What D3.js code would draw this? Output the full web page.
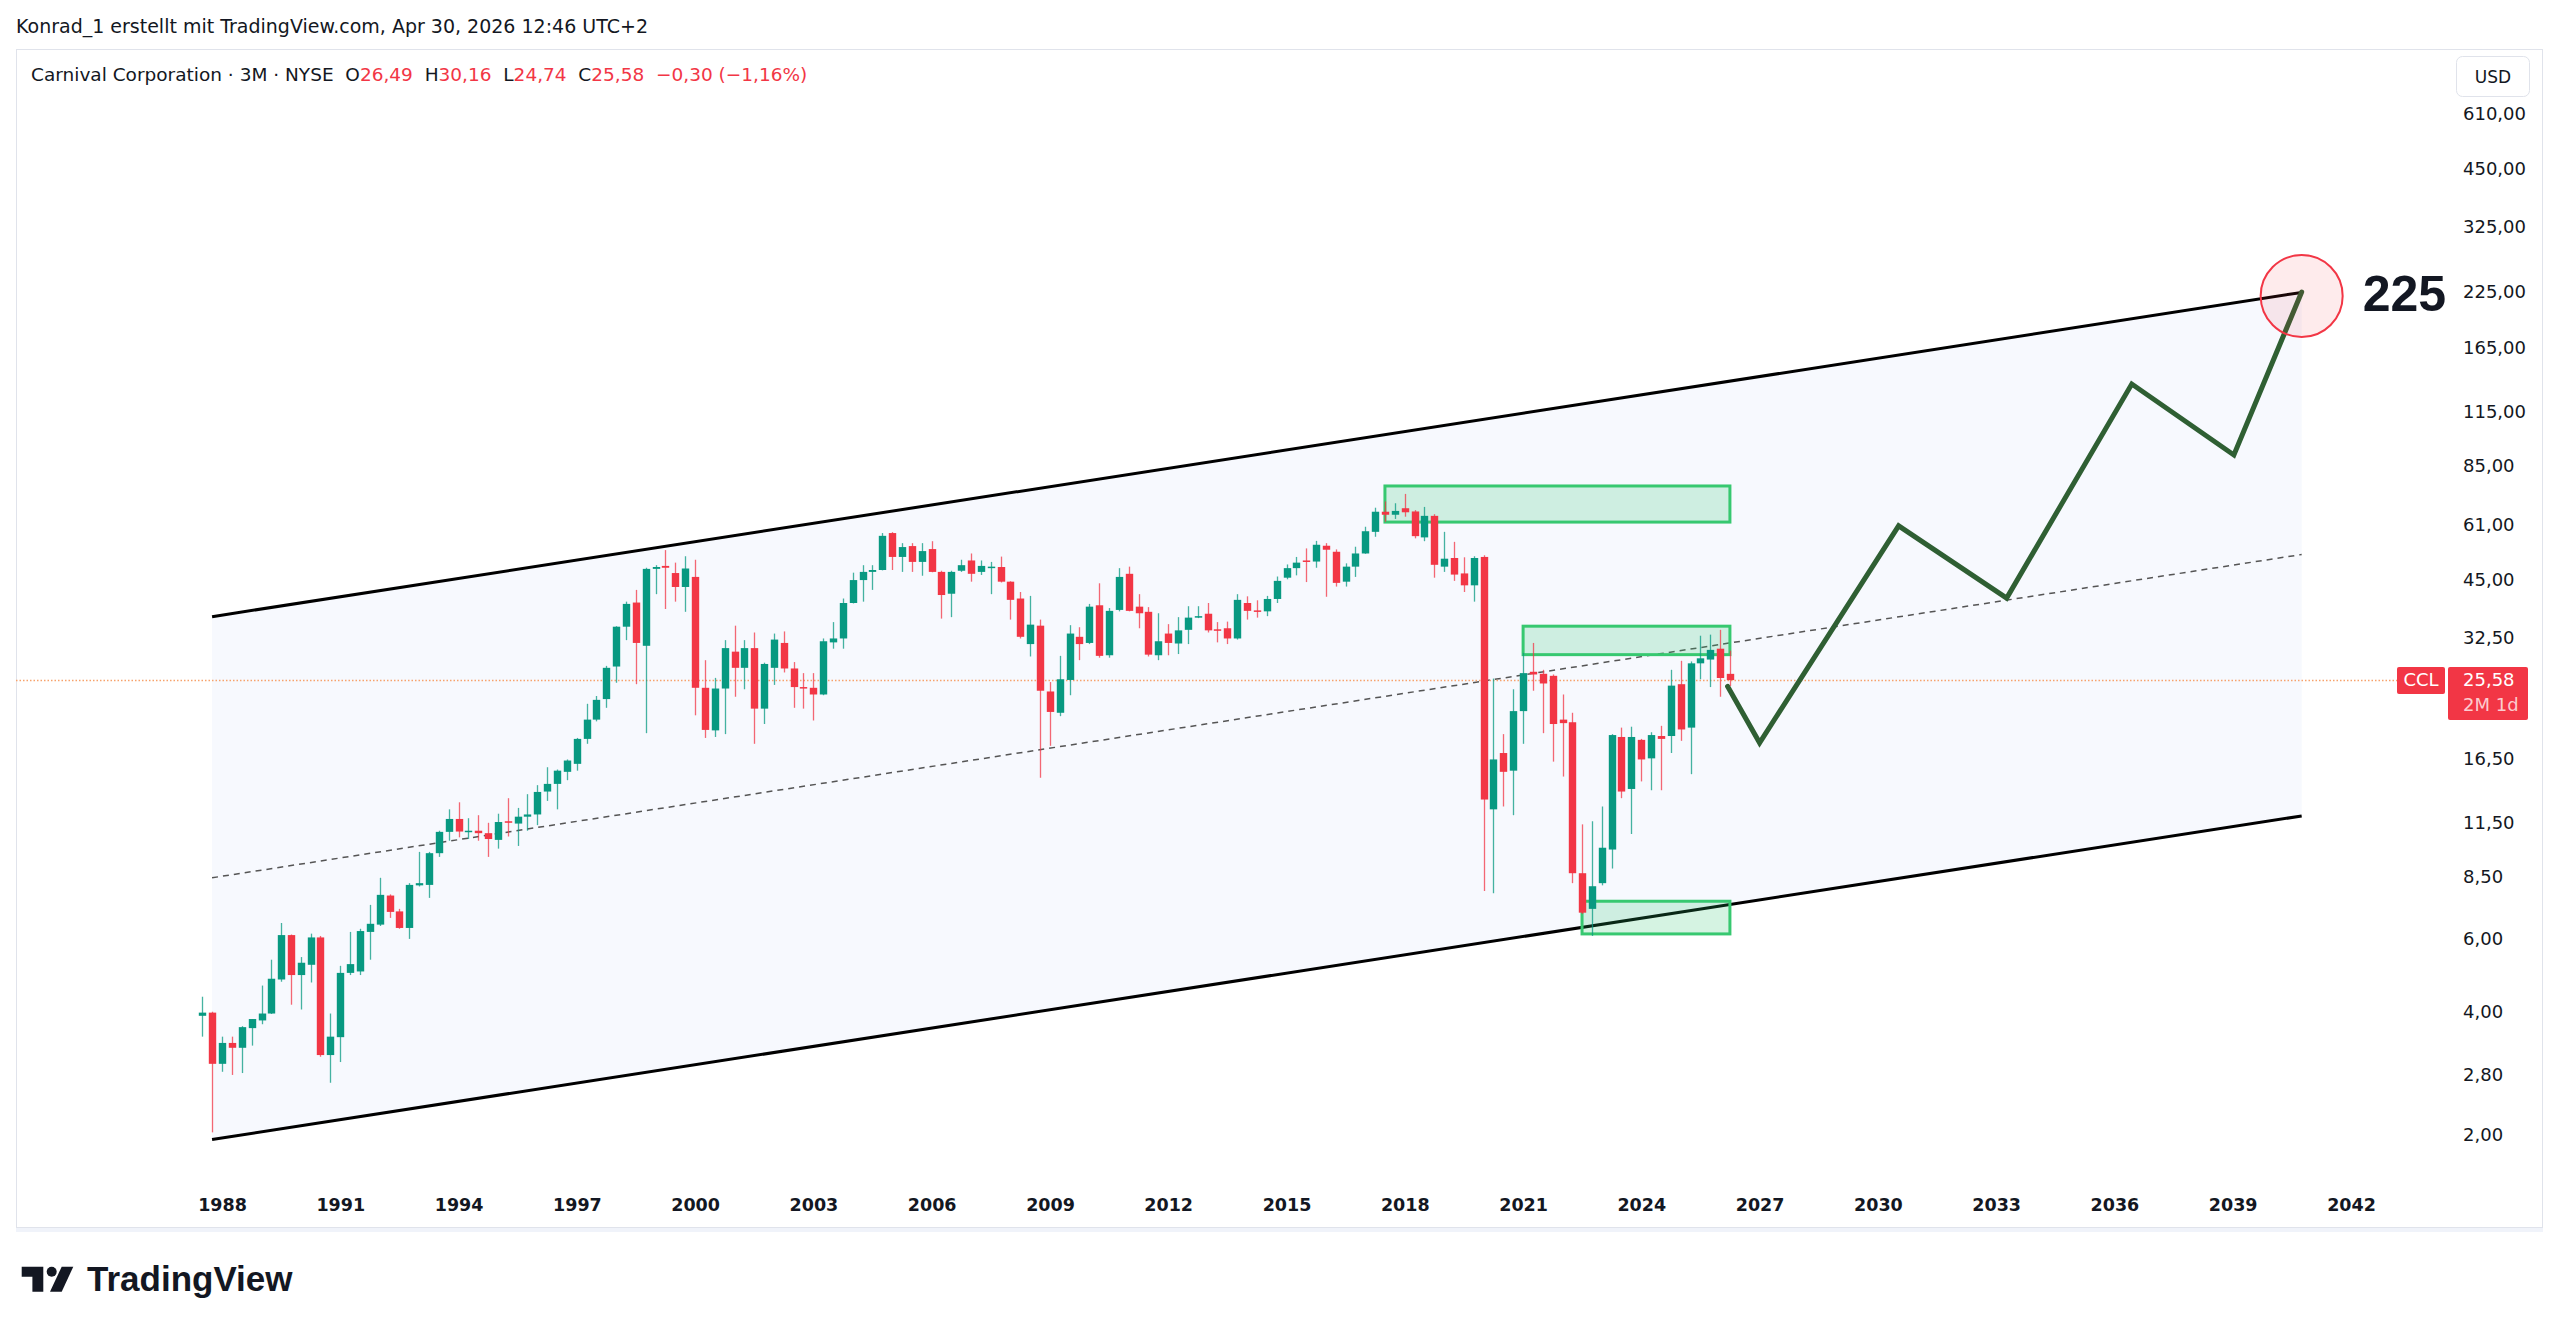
<!DOCTYPE html>
<html>
<head>
<meta charset="utf-8">
<script src="https://cdn.jsdelivr.net/npm/d3@7"></script>
<style>
  html, body { margin: 0; padding: 0; background: #fff; }
  svg { display: block; }
  text { font-family: "DejaVu Sans", sans-serif; fill: #131722; white-space: pre; }
</style>
</head>
<body>
<svg id="chart" width="2560" height="1334"></svg>
<script>

// quarterly candles, CCL, 1987 Q3 .. 2026 Q2
var firstQuarter = "1987-07-01", lastQuarter = "2026-04-01";
var opens = [3.90,3.97,2.98,3.35,3.26,3.64,3.80,3.95,4.78,6.13,
	4.90,5.19,6.05,3.13,3.46,4.96,5.00,6.24,6.50,7.65,
	7.00,6.38,8.10,8.12,9.70,10.93,11.75,10.95,11.0,10.85,
	10.45,11.6,11.45,11.9,12.05,13.7,14.3,15.3,16.0,18.4,
	20.5,23.0,27.6,34.5,39.5,31.0,47.7,48.5,46.6,43.1,
	45.6,24.5,19.3,24.4,30.0,27.4,30.6,21.8,27.4,31.5,
	27.3,24.6,24.5,23.6,31.6,32.3,39.4,44.8,46.9,47.4,
	58.3,51.0,54.2,49.6,53.3,46.9,41.5,47.2,50.0,46.9,
	48.0,48.2,44.4,40.4,31.3,34.7,24.0,21.3,25.6,32.6,
	31.5,38.9,29.4,37.9,46.4,38.6,37.5,29.4,33.2,31.4,
	33.9,36.4,37.1,34.0,34.2,32.3,39.4,37.8,37.6,40.3,
	45.4,47.9,50.0,49.7,54.3,52.5,44.4,48.3,52.0,58.7,
	65.7,64.6,67.0,65.8,56.9,64.2,48.3,50.7,46.5,43.5,
	51.0,12.4,17.0,15.4,21.5,26.8,26.5,26.2,20.5,20.2,
	8.67,7.1,8.2,9.9,18.6,13.9,18.3,16.5,18.7,18.7,
	25.0,19.6,28.1,28.7,30.5,26.49];
var highs = [4.34,3.99,3.47,3.47,3.68,3.83,4.62,5.34,6.56,6.15,
	5.42,6.18,6.10,3.95,5.16,6.24,6.35,7.26,8.45,7.70,
	7.10,8.20,9.77,9.77,11.0,12.4,12.9,11.8,12.0,11.5,
	12.1,13.2,12.5,13.5,14.2,15.7,15.5,16.4,18.5,22.4,
	23.4,27.7,34.6,39.7,42.4,48.0,48.7,53.0,49.4,51.2,
	50.2,28.6,25.9,32.0,34.7,32.0,33.4,28.2,33.2,33.6,
	28.3,26.6,26.6,32.3,35.4,40.4,46.7,48.7,48.7,58.3,
	58.6,55.1,55.1,55.1,55.7,47.2,47.2,50.2,52.0,50.0,
	49.6,51.1,44.5,41.9,41.0,35.9,25.3,29.3,34.8,34.4,
	39.2,44.0,38.3,47.9,48.3,41.4,38.5,37.2,35.0,36.4,
	38.7,38.7,39.4,35.4,35.5,41.4,40.9,40.0,41.0,45.7,
	48.9,51.0,53.5,55.8,55.1,53.2,49.2,54.0,60.4,67.2,
	69.6,68.9,72.6,66.3,67.5,64.8,58.7,55.5,50.9,51.2,
	51.5,25.8,18.9,24.3,29.8,31.5,27.1,26.4,23.6,21.3,
	11.4,11.6,12.6,18.9,19.6,19.7,18.4,19.1,19.8,27.1,
	28.5,28.4,32.8,33.0,33.9,30.16];
var lows = [3.47,2.03,2.85,2.80,2.83,3.30,3.72,3.94,4.72,4.15,
	4.04,4.70,3.10,2.68,3.01,4.90,4.90,5.34,6.45,6.75,
	6.35,6.00,8.05,7.55,9.50,10.4,10.6,10.5,10.4,9.5,
	9.95,10.65,10.1,11.0,11.35,13.0,12.4,14.6,15.4,17.9,
	20.3,21.9,25.2,32.0,25.0,19.0,41.4,38.1,39.7,37.5,
	21.0,18.5,18.6,18.9,23.3,24.3,17.9,20.0,24.9,26.7,
	21.9,21.8,20.4,23.5,30.5,30.5,39.3,39.7,42.4,47.3,
	47.4,46.9,46.9,45.9,46.8,36.1,36.4,46.9,44.4,46.1,
	41.4,44.2,35.9,32.3,29.2,14.8,17.7,20.9,23.5,28.6,
	31.3,29.0,29.0,37.6,37.6,34.2,29.2,28.6,29.4,29.6,
	31.3,36.2,33.4,31.6,31.3,32.1,35.9,36.3,36.6,39.4,
	45.0,46.0,44.3,48.0,40.8,43.2,43.2,45.6,51.9,57.1,
	62.1,63.1,63.9,56.6,55.7,45.4,46.9,44.6,41.9,39.7,
	7.85,7.75,12.6,12.0,17.9,24.1,19.0,16.2,14.9,8.2,
	6.9,6.1,8.1,8.9,13.2,10.8,14.5,13.8,13.8,17.0,
	18.2,15.1,25.7,24.6,23.3,24.74];
var closes = [3.97,2.98,3.35,3.26,3.66,3.83,3.95,4.80,6.13,4.90,
	5.25,6.05,3.13,3.47,4.96,5.21,6.27,6.53,7.68,6.98,
	6.38,8.12,8.20,9.70,10.93,11.75,10.95,11.00,10.85,10.5,
	11.55,11.5,11.9,12.05,13.67,14.3,15.4,16.3,18.4,20.5,
	22.9,27.4,34.5,39.2,31.5,47.7,48.2,48.0,43.1,47.8,
	24.5,19.35,24.4,30.6,27.4,30.6,21.8,28.0,32.1,27.3,
	24.6,24.5,23.6,31.8,32.3,39.4,44.8,46.9,47.4,57.4,
	51.0,53.9,49.6,52.7,46.9,41.2,46.9,48.7,46.4,48.5,
	48.3,44.4,40.1,32.6,34.9,24.1,21.4,25.7,33.2,31.3,
	38.6,29.3,37.7,45.6,37.7,37.2,29.5,31.8,31.5,33.8,
	36.3,36.6,33.8,33.8,32.3,40.1,37.7,37.6,40.3,44.6,
	47.9,49.4,49.7,54.6,53.1,44.1,48.3,52.0,58.9,65.7,
	64.6,66.0,65.5,57.3,64.2,48.8,50.5,46.2,43.5,50.7,
	13.1,16.4,15.3,21.5,26.6,26.4,25.1,20.0,20.1,8.67,
	6.95,8.06,10.0,18.8,13.7,18.6,16.4,18.8,18.4,24.8,
	19.4,28.1,28.9,30.3,25.88,25.58];

var priceTicks = [610, 450, 325, 225, 165, 115, 85, 61, 45, 32.5, 16.5, 11.5, 8.5, 6, 4, 2.8, 2];
var yearTicks = [1988, 1991, 1994, 1997, 2000, 2003, 2006, 2009, 2012, 2015, 2018,
	2021, 2024, 2027, 2030, 2033, 2036, 2039, 2042];

// drawings
var channelDates = ["1987-10-01", "2040-10-01"];
var channelUpper = [36.5, 224.5];
var channelMid = [8.45, 51.7];
var channelLower = [1.95, 11.95];

var zoneStart = ["2017-07-01", "2021-01-01", "2022-07-01"];
var zoneEnd = ["2026-04-01", "2026-04-01", "2026-04-01"];
var zoneTop = [75.9, 34.6, 7.41];
var zoneBottom = [62.0, 29.5, 6.17];

var pathDates = ["2026-03-10", "2027-01-01", "2030-07-12", "2033-04-08", "2036-06-10", "2039-01-12", "2040-10-01"];
var pathPrices = [24.7, 18.0, 60.7, 40.5, 134.4, 90.3, 225];
var targetLabel = "225";

var symbolName = "Carnival Corporation · 3M · NYSE";
var tickerName = "CCL";
var barCountdown = "2M 1d";
var headerText = "Konrad_1 erstellt mit TradingView.com, Apr 30, 2026 12:46 UTC+2";

var UP = "#089981", DOWN = "#f23645";

var de = d3.formatLocale({decimal: ",", thousands: ".", grouping: [3], currency: ["", " €"], minus: "\u2212"});
var fmtPrice = de.format(".2f");
var fmtChange = de.format(".2f");
var parse = d3.utcParse("%Y-%m-%d");

var svg = d3.select("#chart");

var x = d3.scaleUtc()
	.domain([new Date(Date.UTC(1988, 0, 1)), new Date(Date.UTC(2042, 0, 1))])
	.range([222, 2351]);
var y = d3.scaleLog().domain([2, 610]).range([1135, 114]);

var quarters = d3.utcMonth.every(3).range(parse(firstQuarter), d3.utcMonth.offset(parse(lastQuarter), 1));
var bars = quarters.map(function(d, i){
	return {date: d, o: opens[i], h: highs[i], l: lows[i], c: closes[i]};
});
var last = bars[bars.length - 1], prev = bars[bars.length - 2];

// header
svg.append("text").attr("x", 16).attr("y", 26).attr("dy", "0.35em")
	.style("font-size", "19px").text(headerText);

// panel
svg.append("rect").attr("x", 16).attr("y", 1228).attr("width", 2527).attr("height", 4).attr("fill", "#f0f3fa");
svg.append("rect").attr("x", 16.5).attr("y", 49.5).attr("width", 2526).attr("height", 1178)
	.attr("fill", "#fff").attr("stroke", "#e0e3eb");

// channel
var cd = channelDates.map(parse);
var chan = svg.append("g");
chan.append("path")
	.attr("d", "M" + x(cd[0]) + "," + y(channelUpper[0]) + "L" + x(cd[1]) + "," + y(channelUpper[1])
		+ "L" + x(cd[1]) + "," + y(channelLower[1]) + "L" + x(cd[0]) + "," + y(channelLower[0]) + "Z")
	.attr("fill", "#f7f9fe");
[channelUpper, channelLower].forEach(function(v){
	chan.append("line")
		.attr("x1", x(cd[0])).attr("y1", y(v[0])).attr("x2", x(cd[1])).attr("y2", y(v[1]))
		.attr("stroke", "#000").attr("stroke-width", 3);
});
chan.append("line")
	.attr("x1", x(cd[0])).attr("y1", y(channelMid[0])).attr("x2", x(cd[1])).attr("y2", y(channelMid[1]))
	.attr("stroke", "#555").attr("stroke-width", 1.5).attr("stroke-dasharray", "6,5");

// last price line
svg.append("line")
	.attr("x1", 16).attr("x2", 2397).attr("y1", Math.round(y(last.c)) + 0.5).attr("y2", Math.round(y(last.c)) + 0.5)
	.attr("stroke", "#f7a26b").attr("stroke-width", 1.5).attr("stroke-dasharray", "1.5,2");

// zones
svg.append("g").selectAll("rect")
	.data(zoneStart)
	.enter().append("rect")
	.attr("x", function(d){ return x(parse(d)); })
	.attr("width", function(d, i){ return x(parse(zoneEnd[i])) - x(parse(d)); })
	.attr("y", function(d, i){ return y(zoneTop[i]); })
	.attr("height", function(d, i){ return y(zoneBottom[i]) - y(zoneTop[i]); })
	.attr("fill", "rgba(46,196,110,0.2)")
	.attr("stroke", "#37c870").attr("stroke-width", 3);

// candles
var bw = 7.4;
var cg = svg.append("g");
cg.selectAll("line")
	.data(bars)
	.enter().append("line")
	.attr("x1", function(d){ return Math.round(x(d.date)) + 0.5; })
	.attr("x2", function(d){ return Math.round(x(d.date)) + 0.5; })
	.attr("y1", function(d){ return y(d.h); })
	.attr("y2", function(d){ return y(d.l); })
	.attr("stroke", function(d){ return d.c >= d.o ? UP : DOWN; })
	.attr("stroke-opacity", 0.75)
	.attr("stroke-width", 1.3);
cg.selectAll("rect")
	.data(bars)
	.enter().append("rect")
	.attr("x", function(d){ return Math.round(x(d.date)) + 0.5 - bw / 2; })
	.attr("width", bw)
	.attr("y", function(d){ return y(Math.max(d.o, d.c)); })
	.attr("height", function(d){ return Math.max(1.5, Math.abs(y(d.o) - y(d.c))); })
	.attr("fill", function(d){ return d.c >= d.o ? UP : DOWN; });

// projection
var proj = pathDates.map(function(d, i){ return [parse(d), pathPrices[i]]; });
svg.append("path")
	.datum(proj)
	.attr("d", d3.line().x(function(d){ return x(d[0]); }).y(function(d){ return y(d[1]); }))
	.attr("fill", "none").attr("stroke", "#2f5f33").attr("stroke-width", 5)
	.attr("stroke-linejoin", "miter").attr("stroke-linecap", "round");

// target marker
var tp = proj[proj.length - 1];
svg.append("circle")
	.attr("cx", x(tp[0])).attr("cy", y(tp[1]) + 4).attr("r", 41)
	.attr("fill", "rgba(242,54,69,0.1)").attr("stroke", DOWN).attr("stroke-width", 2);
svg.append("text")
	.attr("x", x(tp[0]) + 61).attr("y", y(tp[1]) + 19)
	.style("font-family", "'Liberation Sans', Arial, sans-serif")
	.style("font-weight", "bold").style("font-size", "50px")
	.text(targetLabel);

// axes
var yAxis = svg.append("g")
	.attr("transform", "translate(2455,0)")
	.call(d3.axisRight(y).tickValues(priceTicks).tickFormat(fmtPrice).tickSize(0).tickPadding(8));
yAxis.select(".domain").remove();
yAxis.selectAll("text").style("font-size", "18px").style("font-family", "'DejaVu Sans', sans-serif").attr("fill", "#131722");

var xAxis = svg.append("g")
	.attr("transform", "translate(0,1199)")
	.call(d3.axisBottom(x)
		.tickValues(yearTicks.map(function(yr){ return new Date(Date.UTC(yr, 0, 1)); }))
		.tickFormat(d3.utcFormat("%Y")).tickSize(0).tickPadding(0));
xAxis.select(".domain").remove();
xAxis.selectAll("text").style("font-size", "17.5px").style("font-weight", "bold")
	.style("font-family", "'DejaVu Sans', sans-serif").attr("fill", "#131722");

// price tags
var ly = Math.round(y(last.c));
svg.append("rect").attr("x", 2397).attr("y", ly - 13).attr("width", 48).attr("height", 27).attr("rx", 2).attr("fill", DOWN);
svg.append("text").attr("x", 2421).attr("y", ly).attr("dy", "0.35em").attr("text-anchor", "middle")
	.style("font-size", "18px").style("fill", "#fff").text(tickerName);
svg.append("rect").attr("x", 2448).attr("y", ly - 13).attr("width", 80).attr("height", 53).attr("rx", 2).attr("fill", DOWN);
svg.append("text").attr("x", 2463).attr("y", ly).attr("dy", "0.35em")
	.style("font-size", "18px").style("fill", "#fff").text(fmtPrice(last.c));
svg.append("text").attr("x", 2463).attr("y", ly + 25).attr("dy", "0.35em")
	.style("font-size", "18px").style("fill", "rgba(255,255,255,0.75)").text(barCountdown);

// currency button
svg.append("rect").attr("x", 2456.5).attr("y", 56.5).attr("width", 73).attr("height", 40).attr("rx", 6)
	.attr("fill", "#fff").attr("stroke", "#e0e3eb");
svg.append("text").attr("x", 2493).attr("y", 77).attr("dy", "0.35em").attr("text-anchor", "middle")
	.style("font-size", "17px").text("USD");

// legend
var chg = last.c - prev.c;
var legend = svg.append("text").attr("x", 31).attr("y", 75).attr("dy", "0.35em").style("font-size", "18.5px");
legend.append("tspan").text(symbolName + "  ");
[["O", last.o], ["H", last.h], ["L", last.l], ["C", last.c]].forEach(function(p){
	legend.append("tspan").text(p[0]);
	legend.append("tspan").style("fill", DOWN).text(fmtPrice(p[1]) + "  ");
});
legend.append("tspan").style("fill", DOWN)
	.text(fmtChange(chg) + " (" + fmtChange(chg / prev.c * 100) + "%)");

// logo
var logo = svg.append("g").attr("transform", "translate(21.7,1266.7)");
logo.append("path").attr("d", "M0,0H21.6V25H10.7V10H0Z").attr("fill", "#131722");
logo.append("circle").attr("cx", 30).attr("cy", 5).attr("r", 5).attr("fill", "#131722");
logo.append("path").attr("d", "M28.3,25L40,0H51.6L40,25Z").attr("fill", "#131722");
svg.append("text").attr("x", 87).attr("y", 1279).attr("dy", "0.35em")
	.style("font-family", "'Liberation Sans', Arial, sans-serif")
	.style("font-weight", "bold").style("font-size", "35px").text("TradingView");

</script>
</body>
</html>
